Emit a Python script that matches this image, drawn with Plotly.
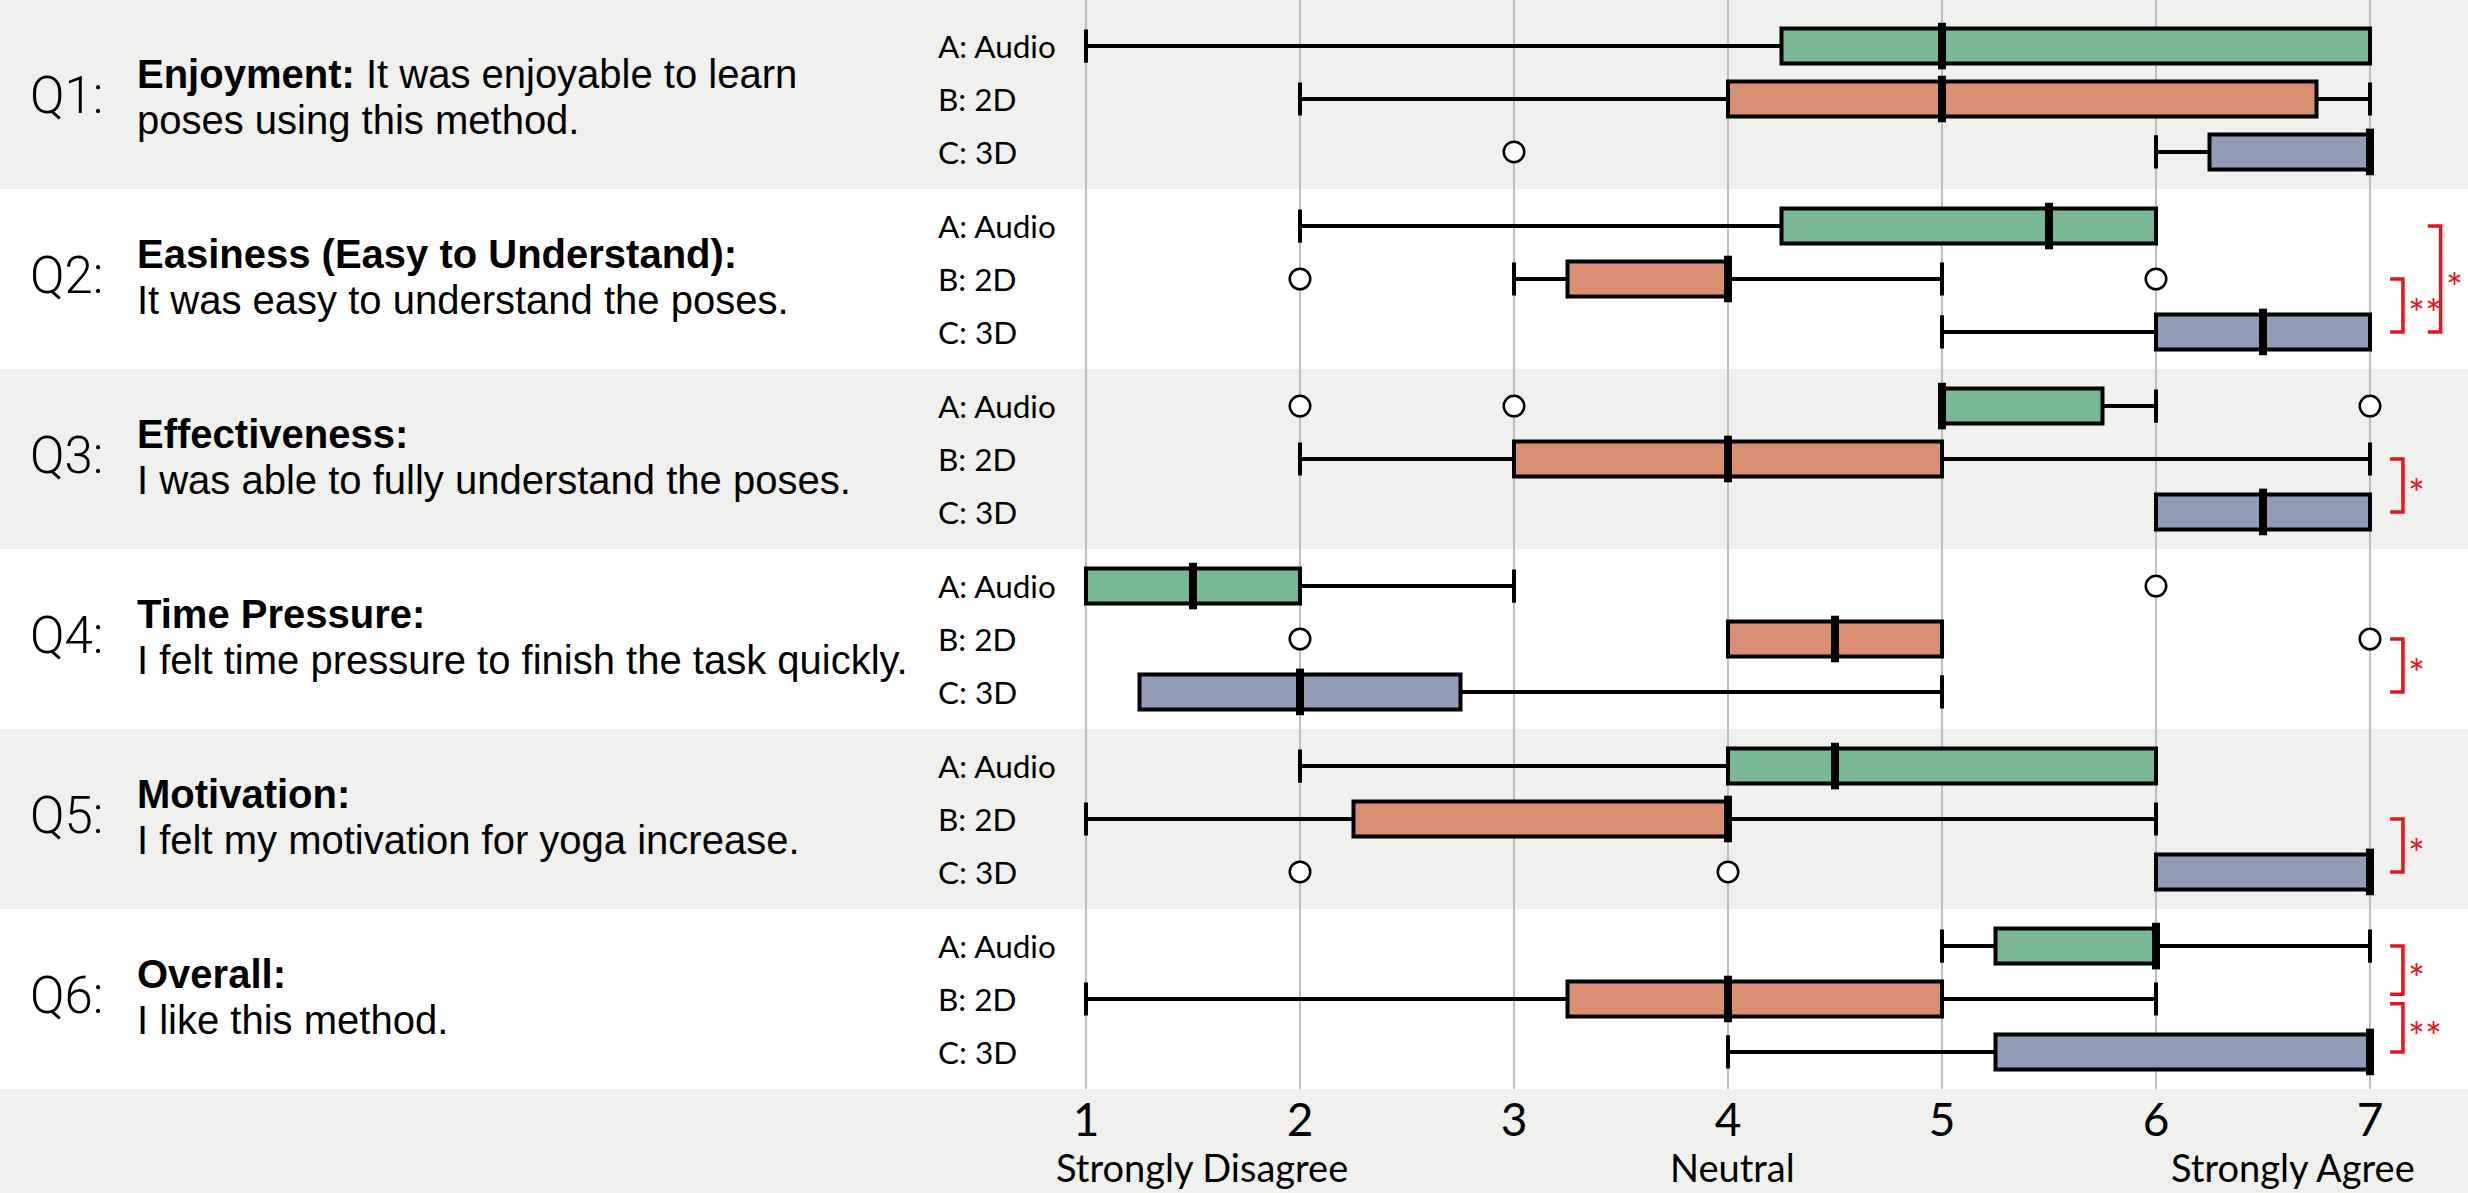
import plotly.graph_objects as go

# ---------------- data ----------------
questions = ["Q1:", "Q2:", "Q3:", "Q4:", "Q5:", "Q6:"]
q_line1 = ["<b>Enjoyment:</b> It was enjoyable to learn",
           "<b>Easiness (Easy to Understand):</b>",
           "<b>Effectiveness:</b>",
           "<b>Time Pressure:</b>",
           "<b>Motivation:</b>",
           "<b>Overall:</b>"]
q_line2 = ["poses using this method.",
           "It was easy to understand the poses.",
           "I was able to fully understand the poses.",
           "I felt time pressure to finish the task quickly.",
           "I felt my motivation for yoga increase.",
           "I like this method."]
methods = ["A: Audio", "B: 2D", "C: 3D"]

audio_low = [1, 2, 5, 1, 2, 5]
audio_q1 = [4.25, 4.25, 5, 1, 4, 5.25]
audio_med = [5, 5.5, 5, 1.5, 4.5, 6]
audio_q3 = [7, 6, 5.75, 2, 6, 6]
audio_high = [7, 6, 6, 3, 6, 7]
audio_out = [[], [], [2, 3, 7], [6], [], []]

d2_low = [2, 3, 2, 4, 1, 1]
d2_q1 = [4, 3.25, 3, 4, 2.25, 3.25]
d2_med = [5, 4, 4, 4.5, 4, 4]
d2_q3 = [6.75, 4, 5, 5, 4, 5]
d2_high = [7, 5, 7, 5, 6, 6]
d2_out = [[], [2, 6], [], [2, 7], [], []]

d3_low = [6, 5, 6, 1.25, 6, 4]
d3_q1 = [6.25, 6, 6, 1.25, 6, 5.25]
d3_med = [7, 6.5, 6.5, 2, 7, 7]
d3_q3 = [7, 7, 7, 2.75, 7, 7]
d3_high = [7, 7, 7, 5, 7, 7]
d3_out = [[3], [], [], [], [2, 4], []]

# significance brackets: question index, from-row, to-row, label, column
sig_question = [1, 1, 2, 3, 4, 5, 5]
sig_from = [1, 0, 1, 1, 1, 0, 1]
sig_to = [2, 2, 2, 2, 2, 1, 2]
sig_label = ["**", "*", "*", "*", "*", "*", "**"]
sig_column = [0, 1, 0, 0, 0, 0, 0]

scale_ticks = [1, 2, 3, 4, 5, 6, 7]
scale_names = ["Strongly Disagree", "Neutral", "Strongly Agree"]
scale_name_pos = [1.54, 4.02, 6.64]

# ---------------- style ----------------
W, H = 2468, 1193
BAND = 3.4
TOP = -0.17
colors = ["#79B894", "#DB8F72", "#919CB7"]
GRAY = "#F0F0EE"
RED = "#E8141C"
LABEL_FONT = "Lato"
TEXT_FONT = "Liberation Sans"


def row_pos(qi, ri):
    return qi * BAND + BAND / 2 + (ri - 1) * 1.0


fig = go.Figure()

stats = [
    (audio_low, audio_q1, audio_med, audio_q3, audio_high, audio_out),
    (d2_low, d2_q1, d2_med, d2_q3, d2_high, d2_out),
    (d3_low, d3_q1, d3_med, d3_q3, d3_high, d3_out),
]

for ri, (lo, q1, med, q3, hi, out) in enumerate(stats):
    pos = [row_pos(qi, ri) for qi in range(len(questions))]
    fig.add_trace(go.Box(
        orientation="h", y=pos, q1=q1, median=med, q3=q3,
        lowerfence=lo, upperfence=hi, boxpoints=False,
        fillcolor=colors[ri], line=dict(color="black", width=4),
        width=0.66, whiskerwidth=0.95, hoverinfo="skip", showlegend=False,
    ))

# thick medians
for ri, (lo, q1, med, q3, hi, out) in enumerate(stats):
    xs, ys = [], []
    for qi, m in enumerate(med):
        p = row_pos(qi, ri)
        xs += [m, m, None]
        ys += [p - 0.44, p + 0.44, None]
    fig.add_trace(go.Scatter(x=xs, y=ys, mode="lines",
                             line=dict(color="black", width=8),
                             hoverinfo="skip", showlegend=False))

# outliers
for ri, (lo, q1, med, q3, hi, out) in enumerate(stats):
    xs, ys = [], []
    for qi, vals in enumerate(out):
        for v in vals:
            xs.append(v)
            ys.append(row_pos(qi, ri))
    fig.add_trace(go.Scatter(x=xs, y=ys, mode="markers",
                             marker=dict(symbol="circle", size=20.5, color="white",
                                         line=dict(color="black", width=2.5)),
                             hoverinfo="skip", showlegend=False))

# significance brackets
col_x = [7.154, 7.33]
tick_len = 0.06
annotations = []
for k in range(len(sig_question)):
    qi, a, b, c = sig_question[k], sig_from[k], sig_to[k], sig_column[k]
    ya, yb = row_pos(qi, a), row_pos(qi, b)
    # trim where two brackets in the same column share an endpoint
    for j in range(len(sig_question)):
        if j == k or sig_question[j] != qi or sig_column[j] != c:
            continue
        if sig_to[j] == a:
            ya += 0.09
        if sig_from[j] == b:
            yb -= 0.09
    xv = col_x[c]
    fig.add_trace(go.Scatter(x=[xv - tick_len, xv, xv, xv - tick_len],
                             y=[ya, ya, yb, yb], mode="lines",
                             line=dict(color=RED, width=3.5),
                             hoverinfo="skip", showlegend=False))
    annotations.append(dict(x=xv, y=(ya + yb) / 2, xref="x", yref="y",
                            text=sig_label[k], showarrow=False,
                            font=dict(family=LABEL_FONT, size=40, color=RED),
                            xanchor="left", xshift=3,
                            yanchor="middle", yshift=-9))

# bands
shapes = []
for qi in range(len(questions)):
    if qi % 2 == 0:
        y0 = TOP if qi == 0 else qi * BAND
        shapes.append(dict(type="rect", xref="paper", yref="y", x0=0, x1=1,
                           y0=y0, y1=(qi + 1) * BAND, fillcolor=GRAY,
                           line=dict(width=0), layer="below"))

# left texts
for qi in range(len(questions)):
    c = qi * BAND + BAND / 2
    annotations.append(dict(x=28 / W, y=c, xref="paper", yref="y",
                            text=questions[qi], showarrow=False,
                            xanchor="left", yanchor="middle", yshift=4,
                            font=dict(family="Roboto", size=51, color="black", weight=300)))
    annotations.append(dict(x=135 / W, y=c - 0.47, xref="paper", yref="y",
                            text=q_line1[qi], showarrow=False,
                            xanchor="left", yanchor="middle", align="left",
                            font=dict(family=TEXT_FONT, size=40, color="black")))
    annotations.append(dict(x=135 / W, y=c + 0.40, xref="paper", yref="y",
                            text=q_line2[qi], showarrow=False,
                            xanchor="left", yanchor="middle", align="left",
                            font=dict(family=TEXT_FONT, size=40, color="black")))
    for ri, m in enumerate(methods):
        annotations.append(dict(x=936 / W, y=row_pos(qi, ri), xref="paper", yref="y",
                                text=m, showarrow=False, xanchor="left",
                                yanchor="middle",
                                font=dict(family=LABEL_FONT, size=31.5, color="black")))

for name, xp in zip(scale_names, scale_name_pos):
    annotations.append(dict(x=xp, y=-0.072, xref="x", yref="paper", text=name,
                            showarrow=False, xanchor="center", yanchor="middle",
                            font=dict(family=LABEL_FONT, size=38, color="black")))

unit = 214.0
x1_px = 1086.0
fig.update_layout(
    width=W, height=H,
    margin=dict(l=0, r=0, t=0, b=104, pad=0),
    paper_bgcolor=GRAY, plot_bgcolor="white",
    shapes=shapes, annotations=annotations,
    boxmode="overlay", showlegend=False,
    xaxis=dict(range=[1 - x1_px / unit, 1 + (W - x1_px) / unit],
               tickvals=scale_ticks, ticktext=[str(t) for t in scale_ticks],
               showgrid=True, gridcolor="#BEBEBE", gridwidth=2,
               zeroline=False, showline=False, ticks="",
               tickfont=dict(family=LABEL_FONT, size=46, color="black")),
    yaxis=dict(range=[len(questions) * BAND, TOP], showgrid=False,
               zeroline=False, showticklabels=False, showline=False),
)

fig.write_html("out.html", config={"displayModeBar": False},
               post_script="document.body.style.margin='0';document.body.style.overflow='hidden';")
